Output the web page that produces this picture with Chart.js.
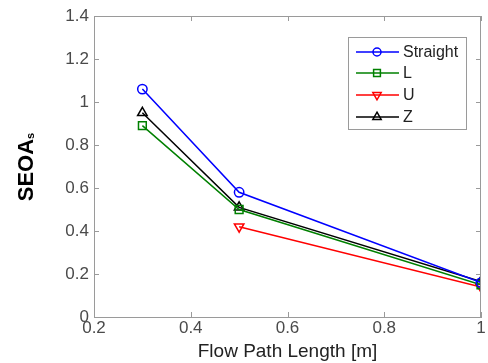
<!DOCTYPE html>
<html>
<head>
<meta charset="utf-8">
<script src="https://cdn.jsdelivr.net/npm/chart.js@4/dist/chart.umd.min.js"></script>
<style>
  html, body { margin: 0; padding: 0; background: #fff; }
  #wrap { width: 488px; height: 363px; }
</style>
</head>
<body>
<div id="wrap"><canvas id="c" width="488" height="363"></canvas></div>
<script>
// flow path lengths [m]
const lengths = [0.3, 0.5, 1];
const lengthsU = [0.5, 1];

const straight = [1.06, 0.58, 0.16];
const lShape = [0.89, 0.50, 0.15];
const uShape = [0.42, 0.14];
const zShape = [0.95, 0.51, 0.165];

const seriesNames = ["Straight", "L", "U", "Z"];
const xTicks = [0.2, 0.4, 0.6, 0.8, 1];
const yTicks = [0, 0.2, 0.4, 0.6, 0.8, 1, 1.2, 1.4];

const axisGray = "#9a9a9a";
const textGray = "#4a4a4a";
const fam = "'Liberation Sans', Arial, sans-serif";

function pts(xs, ys) {
  return xs.map((x, i) => ({ x: x, y: ys[i] }));
}

function ds(label, data, color, style, rot) {
  return {
    label: label,
    data: data,
    showLine: true,
    borderColor: color,
    backgroundColor: "rgba(0,0,0,0)",
    borderWidth: 1.5,
    pointStyle: style,
    pointRotation: rot || 0,
    pointRadius: style === "rect" ? 5.5 : (style === "circle" ? 4.7 : 5.5),
    pointBorderWidth: 1.5,
    pointBorderColor: color,
    pointBackgroundColor: "rgba(0,0,0,0)"
  };
}

// box, inner ticks, titles and legend in matlab style
const matlabBits = {
  id: "matlabBits",
  afterDraw(chart) {
    const ctx = chart.ctx;
    const a = chart.chartArea;
    const xs = chart.scales.x, ys = chart.scales.y;
    ctx.save();
    ctx.strokeStyle = axisGray;
    ctx.lineWidth = 1;
    ctx.strokeRect(a.left + 0.5, a.top + 0.5, a.right - a.left - 1, a.bottom - a.top);
    ctx.beginPath();
    xTicks.forEach(v => {
      const px = Math.round(xs.getPixelForValue(v)) + 0.5;
      ctx.moveTo(px, a.bottom); ctx.lineTo(px, a.bottom - 5);
      ctx.moveTo(px, a.top); ctx.lineTo(px, a.top + 5);
    });
    yTicks.forEach(v => {
      const py = Math.round(ys.getPixelForValue(v)) + 0.5;
      ctx.moveTo(a.left, py); ctx.lineTo(a.left + 5, py);
      ctx.moveTo(a.right, py); ctx.lineTo(a.right - 5, py);
    });
    ctx.stroke();

    // x title
    ctx.fillStyle = "#222";
    ctx.font = "19px " + fam;
    ctx.textAlign = "center";
    ctx.textBaseline = "middle";
    ctx.fillText("Flow Path Length [m]", (a.left + a.right) / 2, 352);

    // y title with subscript
    ctx.save();
    ctx.translate(33, 167);
    ctx.rotate(-Math.PI / 2);
    ctx.fillStyle = "#000";
    ctx.textBaseline = "alphabetic";
    ctx.textAlign = "left";
    ctx.font = "bold 22px " + fam;
    const w1 = ctx.measureText("SEOA").width;
    ctx.font = "bold 11px " + fam;
    const w2 = ctx.measureText("s").width;
    const x0 = -(w1 + w2) / 2;
    ctx.font = "bold 22px " + fam;
    ctx.fillText("SEOA", x0, 0);
    ctx.font = "bold 11px " + fam;
    ctx.fillText("s", x0 + w1, 1);
    ctx.restore();

    // legend
    ctx.fillStyle = "#fff";
    ctx.fillRect(348, 37, 118, 92);
    ctx.strokeStyle = axisGray;
    ctx.lineWidth = 1;
    ctx.strokeRect(348.5, 37.5, 118, 92);
    const rows = [52, 73, 95, 117];
    chart.data.datasets.forEach((d, i) => {
      const y = rows[i];
      ctx.strokeStyle = d.borderColor;
      ctx.lineWidth = 1.5;
      ctx.beginPath();
      ctx.moveTo(356, y); ctx.lineTo(399, y);
      ctx.stroke();
      ctx.fillStyle = "rgba(0,0,0,0)";
      Chart.helpers.drawPoint(ctx, {
        pointStyle: d.pointStyle,
        rotation: d.pointRotation,
        radius: d.pointRadius - 0.7,
        borderWidth: 1.5
      }, 377, y);
      ctx.fillStyle = "#222";
      ctx.font = "16px " + fam;
      ctx.textAlign = "left";
      ctx.textBaseline = "middle";
      ctx.fillText(d.label, 403, y + 1);
    });
    ctx.restore();
  }
};

new Chart(document.getElementById("c"), {
  type: "scatter",
  data: {
    datasets: [
      ds(seriesNames[0], pts(lengths, straight), "#0000ff", "circle"),
      ds(seriesNames[1], pts(lengths, lShape), "#008000", "rect"),
      ds(seriesNames[2], pts(lengthsU, uShape), "#ff0000", "triangle", 180),
      ds(seriesNames[3], pts(lengths, zShape), "#000000", "triangle")
    ]
  },
  options: {
    responsive: false,
    animation: false,
    layout: { padding: { top: 16, right: 3, left: 0, bottom: 0 } },
    plugins: { legend: { display: false }, tooltip: { enabled: false } },
    scales: {
      x: {
        type: "linear",
        min: 0.2,
        max: 1,
        afterFit: s => { s.height = 46; s.paddingLeft = 0; s.paddingRight = 0; },
        afterBuildTicks: s => { s.ticks = xTicks.map(v => ({ value: v })); },
        ticks: {
          color: textGray,
          padding: 1,
          maxRotation: 0,
          autoSkip: false,
          font: { size: 17, family: fam },
          callback: v => String(Math.round(v * 10) / 10)
        },
        grid: { drawOnChartArea: false, drawTicks: false },
        border: { color: axisGray }
      },
      y: {
        min: 0,
        max: 1.4,
        afterFit: s => { s.width = 94; s.paddingTop = 0; s.paddingBottom = 0; },
        afterBuildTicks: s => { s.ticks = yTicks.map(v => ({ value: v })); },
        ticks: {
          color: textGray,
          padding: 5,
          autoSkip: false,
          font: { size: 17, family: fam },
          callback: v => String(Math.round(v * 10) / 10)
        },
        grid: { drawOnChartArea: false, drawTicks: false },
        border: { color: axisGray }
      }
    }
  },
  plugins: [matlabBits]
});
</script>
</body>
</html>
